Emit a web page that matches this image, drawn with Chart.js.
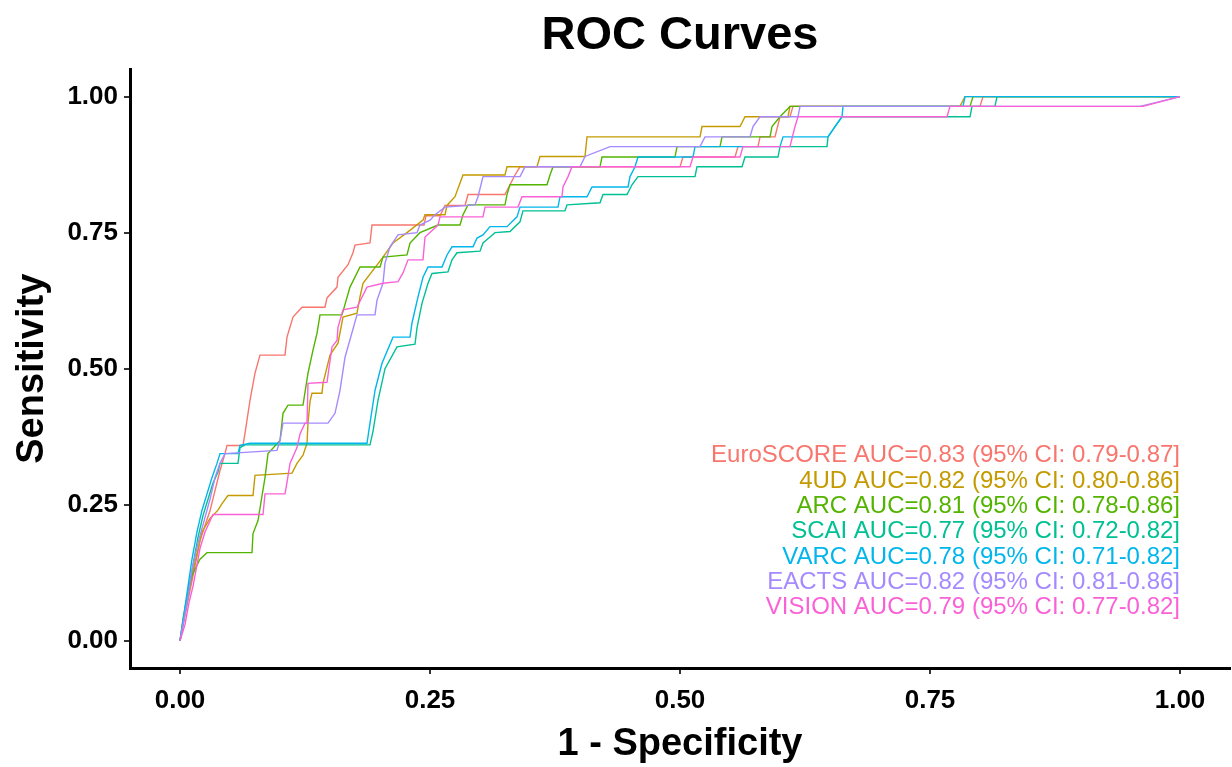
<!DOCTYPE html>
<html><head><meta charset="utf-8">
<script src="https://cdn.jsdelivr.net/npm/chart.js@4.4.1/dist/chart.umd.min.js"></script>
<style>html,body{margin:0;padding:0;background:#fff;}</style>
</head><body>
<canvas id="c" width="1232" height="767"></canvas>
<script>
const FONT = '"Liberation Sans", Arial, Helvetica, sans-serif';
const seriesNames = ['EuroSCORE','4UD','ARC','SCAI','VARC','EACTS','VISION'];
const seriesColors = ['#F8766D','#C49A00','#53B400','#00C094','#00B6EB','#A58AFF','#FB61D7'];
const aucLabels = [
  'EuroSCORE AUC=0.83 (95% CI: 0.79-0.87]',
  '4UD AUC=0.82 (95% CI: 0.80-0.86]',
  'ARC AUC=0.81 (95% CI: 0.78-0.86]',
  'SCAI AUC=0.77 (95% CI: 0.72-0.82]',
  'VARC AUC=0.78 (95% CI: 0.71-0.82]',
  'EACTS AUC=0.82 (95% CI: 0.81-0.86]',
  'VISION AUC=0.79 (95% CI: 0.77-0.82]'
];
const tickValues = [0, 0.25, 0.5, 0.75, 1];
const tickLabels = ['0.00','0.25','0.50','0.75','1.00'];

// [1 - specificity, sensitivity]
const euroscore = [[0,0],[0.004,0.037],[0.008,0.074],[0.012,0.11],[0.016,0.147],[0.02,0.184],[0.025,0.212],[0.03,0.239],[0.035,0.276],[0.04,0.313],[0.045,0.344],[0.047,0.359],[0.063,0.359],[0.065,0.381],[0.07,0.442],[0.075,0.492],[0.08,0.525],[0.105,0.525],[0.107,0.558],[0.113,0.595],[0.122,0.613],[0.145,0.613],[0.147,0.63],[0.157,0.65],[0.158,0.668],[0.168,0.691],[0.173,0.713],[0.175,0.727],[0.19,0.731],[0.192,0.764],[0.244,0.764],[0.246,0.781],[0.26,0.781],[0.265,0.8],[0.285,0.8],[0.288,0.82],[0.325,0.82],[0.33,0.838],[0.335,0.856],[0.34,0.871],[0.5,0.871],[0.503,0.889],[0.555,0.889],[0.558,0.908],[0.578,0.908],[0.58,0.926],[0.595,0.926],[0.6,0.963],[0.61,0.963],[0.613,0.982],[0.8,0.982],[0.803,1],[1,1]];
const ud4 = [[0,0],[0.004,0.04],[0.008,0.08],[0.012,0.12],[0.017,0.16],[0.022,0.2],[0.03,0.225],[0.038,0.24],[0.042,0.252],[0.048,0.267],[0.073,0.267],[0.075,0.304],[0.112,0.308],[0.117,0.326],[0.123,0.341],[0.127,0.363],[0.128,0.4],[0.13,0.44],[0.132,0.455],[0.142,0.455],[0.143,0.473],[0.15,0.525],[0.158,0.547],[0.163,0.595],[0.177,0.602],[0.18,0.632],[0.183,0.657],[0.203,0.705],[0.213,0.731],[0.227,0.75],[0.243,0.773],[0.245,0.783],[0.265,0.783],[0.267,0.8],[0.275,0.816],[0.283,0.856],[0.325,0.856],[0.327,0.871],[0.357,0.871],[0.36,0.89],[0.405,0.89],[0.407,0.926],[0.52,0.926],[0.522,0.945],[0.56,0.945],[0.565,0.963],[0.608,0.963],[0.61,0.982],[0.78,0.982],[0.785,1],[1,1]];
const arc = [[0,0],[0.003,0.04],[0.007,0.08],[0.012,0.12],[0.02,0.15],[0.027,0.162],[0.072,0.162],[0.073,0.197],[0.078,0.221],[0.085,0.3],[0.088,0.344],[0.1,0.368],[0.103,0.418],[0.108,0.433],[0.123,0.433],[0.128,0.492],[0.133,0.534],[0.137,0.565],[0.14,0.599],[0.162,0.599],[0.17,0.65],[0.18,0.687],[0.2,0.687],[0.203,0.705],[0.227,0.709],[0.23,0.731],[0.24,0.75],[0.258,0.764],[0.28,0.764],[0.283,0.783],[0.288,0.801],[0.325,0.801],[0.327,0.82],[0.33,0.838],[0.367,0.838],[0.37,0.856],[0.373,0.871],[0.42,0.871],[0.422,0.889],[0.495,0.889],[0.497,0.908],[0.54,0.908],[0.542,0.926],[0.59,0.926],[0.592,0.945],[0.6,0.963],[0.61,0.982],[0.79,0.982],[0.793,1],[1,1]];
const scai = [[0,0],[0.004,0.045],[0.008,0.09],[0.013,0.14],[0.018,0.19],[0.023,0.23],[0.028,0.26],[0.033,0.29],[0.038,0.31],[0.04,0.326],[0.058,0.326],[0.06,0.355],[0.065,0.36],[0.19,0.36],[0.193,0.385],[0.198,0.442],[0.205,0.5],[0.217,0.54],[0.235,0.545],[0.237,0.575],[0.242,0.62],[0.248,0.657],[0.252,0.675],[0.268,0.678],[0.272,0.7],[0.277,0.713],[0.3,0.716],[0.303,0.731],[0.31,0.742],[0.315,0.75],[0.33,0.752],[0.34,0.77],[0.343,0.79],[0.385,0.79],[0.387,0.801],[0.42,0.805],[0.423,0.82],[0.447,0.82],[0.452,0.838],[0.458,0.853],[0.515,0.853],[0.517,0.871],[0.562,0.871],[0.565,0.889],[0.598,0.889],[0.6,0.908],[0.647,0.908],[0.648,0.926],[0.655,0.945],[0.662,0.963],[0.79,0.963],[0.792,0.982],[0.815,0.982],[0.817,1],[1,1]];
const varc = [[0,0],[0.004,0.05],[0.008,0.1],[0.012,0.15],[0.017,0.2],[0.022,0.24],[0.027,0.27],[0.032,0.3],[0.037,0.326],[0.04,0.344],[0.058,0.344],[0.06,0.359],[0.07,0.363],[0.187,0.363],[0.19,0.4],[0.195,0.46],[0.202,0.51],[0.213,0.558],[0.23,0.558],[0.232,0.584],[0.238,0.632],[0.243,0.668],[0.248,0.687],[0.262,0.687],[0.267,0.709],[0.272,0.724],[0.293,0.724],[0.297,0.74],[0.303,0.746],[0.31,0.761],[0.327,0.761],[0.337,0.779],[0.34,0.797],[0.378,0.797],[0.38,0.816],[0.407,0.816],[0.412,0.834],[0.448,0.834],[0.45,0.853],[0.455,0.871],[0.458,0.889],[0.513,0.889],[0.515,0.908],[0.6,0.908],[0.603,0.926],[0.648,0.926],[0.655,0.945],[0.662,0.963],[0.663,0.982],[0.783,0.982],[0.785,1],[1,1]];
const eacts = [[0,0],[0.004,0.04],[0.008,0.08],[0.012,0.13],[0.018,0.18],[0.024,0.22],[0.03,0.26],[0.035,0.3],[0.04,0.326],[0.045,0.344],[0.097,0.35],[0.1,0.368],[0.103,0.4],[0.148,0.4],[0.155,0.418],[0.16,0.46],[0.165,0.521],[0.177,0.599],[0.195,0.599],[0.197,0.626],[0.203,0.657],[0.205,0.694],[0.21,0.724],[0.218,0.746],[0.237,0.75],[0.24,0.764],[0.25,0.773],[0.255,0.783],[0.265,0.797],[0.295,0.801],[0.298,0.816],[0.303,0.853],[0.34,0.853],[0.345,0.871],[0.4,0.871],[0.405,0.89],[0.43,0.908],[0.52,0.908],[0.525,0.926],[0.57,0.926],[0.573,0.945],[0.58,0.963],[0.618,0.963],[0.62,0.982],[0.96,0.982],[1,1]];
const vision = [[0,0],[0.005,0.03],[0.009,0.07],[0.013,0.1],[0.017,0.14],[0.02,0.17],[0.025,0.2],[0.03,0.22],[0.033,0.232],[0.083,0.232],[0.085,0.27],[0.105,0.27],[0.107,0.291],[0.11,0.326],[0.117,0.355],[0.12,0.38],[0.125,0.4],[0.127,0.4],[0.128,0.473],[0.147,0.475],[0.152,0.54],[0.157,0.552],[0.158,0.576],[0.163,0.608],[0.177,0.613],[0.187,0.65],[0.203,0.657],[0.218,0.66],[0.223,0.676],[0.228,0.7],[0.243,0.7],[0.245,0.742],[0.258,0.764],[0.26,0.779],[0.303,0.779],[0.305,0.797],[0.338,0.797],[0.342,0.816],[0.382,0.816],[0.383,0.834],[0.388,0.853],[0.392,0.871],[0.51,0.871],[0.513,0.889],[0.56,0.889],[0.563,0.908],[0.61,0.908],[0.615,0.945],[0.618,0.963],[0.767,0.963],[0.77,0.982],[0.963,0.982],[1,1]];

const seriesData = [euroscore, ud4, arc, scai, varc, eacts, vision];

const aucPlugin = {
  id: 'aucText',
  afterDatasetsDraw(chart) {
    const {ctx, scales} = chart;
    const xr = scales.x.getPixelForValue(1);
    const y0 = scales.y.getPixelForValue(0.34);
    ctx.save();
    ctx.font = '24px ' + FONT;
    ctx.textAlign = 'right';
    ctx.textBaseline = 'middle';
    aucLabels.forEach((t, i) => {
      ctx.fillStyle = seriesColors[i];
      ctx.fillText(t, xr, y0 + i * 25.3);
    });
    ctx.restore();
  }
};

new Chart(document.getElementById('c'), {
  type: 'scatter',
  data: {
    datasets: seriesData.map((d, i) => ({
      label: seriesNames[i],
      data: d,
      showLine: true,
      borderColor: seriesColors[i],
      backgroundColor: seriesColors[i],
      borderWidth: 1.4,
      pointRadius: 0,
      tension: 0,
      fill: false,
      order: seriesData.length - i
    }))
  },
  options: {
    responsive: false,
    animation: false,
    devicePixelRatio: 1,
    layout: {padding: {left: 0, right: 2, top: 0, bottom: 0}},
    plugins: {
      legend: {display: false},
      tooltip: {enabled: false},
      title: {
        display: true, text: 'ROC Curves', color: '#000', fullSize: false,
        font: {family: FONT, size: 47, weight: 'bold', lineHeight: 1.2},
        padding: {top: 8, bottom: 5}
      }
    },
    scales: {
      x: {
        type: 'linear', min: -0.05, max: 1.05,
        afterBuildTicks: s => { s.ticks = tickValues.map(v => ({value: v})); },
        afterFit: s => { s.height = 99; },
        ticks: {
          callback: v => tickLabels[tickValues.indexOf(v)],
          color: '#000', font: {family: FONT, size: 26, weight: 'bold'},
          padding: 11, maxRotation: 0, autoSkip: false
        },
        grid: {display: true, drawOnChartArea: false, drawTicks: true, tickLength: 6, color: '#333', lineWidth: 2},
        border: {display: true, color: '#000', width: 3},
        title: {display: true, text: '1 - Specificity', color: '#000',
          font: {family: FONT, size: 38, weight: 'bold', lineHeight: 1.2}, padding: {top: 0, bottom: 0}}
      },
      y: {
        type: 'linear', min: -0.05, max: 1.05,
        afterBuildTicks: s => { s.ticks = tickValues.map(v => ({value: v})); },
        afterFit: s => { s.width = 130; },
        ticks: {
          callback: v => tickLabels[tickValues.indexOf(v)],
          color: '#000', font: {family: FONT, size: 26, weight: 'bold'},
          padding: 6, autoSkip: false
        },
        grid: {display: true, drawOnChartArea: false, drawTicks: true, tickLength: 6, color: '#333', lineWidth: 2},
        border: {display: true, color: '#000', width: 3},
        title: {display: true, text: 'Sensitivity', color: '#000',
          font: {family: FONT, size: 38, weight: 'bold', lineHeight: 1.2}, padding: {top: 10, bottom: 0}}
      }
    }
  },
  plugins: [aucPlugin]
});
</script>
</body></html>
